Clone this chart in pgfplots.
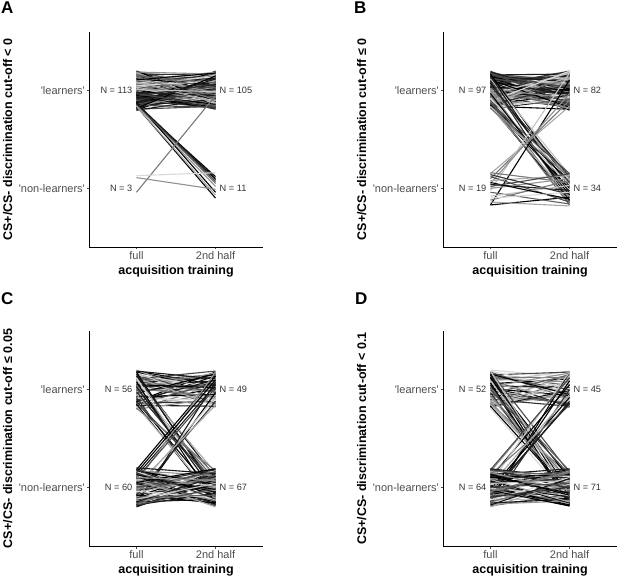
\documentclass[border=0pt]{standalone}
\usepackage{pgfplots}
\pgfplotsset{compat=1.18}
\usepackage{pgfplotstable}
\usepackage{fontspec}
\setmainfont{Liberation Sans}
\definecolor{tickgray}{HTML}{4D4D4D}
\definecolor{ngray}{HTML}{333333}

% columns: a = position at "full", b = position at "2nd half", g = grey level (0 black ... 0.9 light)
\pgfplotstableread[row sep=\\]{a b g\\
1.13 0.95 0.1\\ 0.93 1.16 0.6\\ 1.18 1.04 0.2\\ 0.85 0.90 0.9\\ 1.02 1.19 0.0\\ 1.09 0.83 0.4\\ 0.81 1.08 0.3\\ 1.05 0.97 0.7\\
0.89 1.12 0.1\\ 1.16 0.86 0.5\\ 0.97 1.01 0.0\\ 1.11 1.17 0.8\\ 0.83 0.94 0.2\\ 1.07 1.10 0.6\\ 0.91 0.82 0.3\\ 1.19 1.06 0.1\\
0.99 0.88 0.9\\ 1.14 1.13 0.0\\ 0.87 1.03 0.4\\ 1.04 0.91 0.7\\ 0.94 1.18 0.2\\ 1.17 0.99 0.5\\ 0.82 1.14 0.1\\ 1.08 0.84 0.8\\
0.88 1.07 0.0\\ 1.01 0.93 0.3\\ 1.15 1.11 0.6\\ 0.95 0.87 0.2\\ 1.10 1.02 0.9\\ 0.84 1.15 0.1\\ 1.06 0.96 0.4\\ 0.80 1.09 0.0\\
1.12 0.81 0.7\\ 0.92 1.00 0.3\\ 1.03 1.12 0.5\\ 0.86 0.89 0.1\\ 1.20 1.05 0.8\\ 0.96 0.92 0.0\\ 1.17 1.16 0.2\\ 0.90 0.85 0.6\\
1.00 1.08 0.3\\ 1.08 0.98 0.9\\ 0.85 1.20 0.1\\ 1.13 0.90 0.4\\ 0.98 1.04 0.0\\ 1.18 0.86 0.7\\ 0.88 1.13 0.2\\ 1.05 0.94 0.5\\
0.82 1.01 0.1\\ 1.10 1.17 0.8\\ 0.94 0.83 0.0\\ 1.15 1.10 0.3\\ 0.91 0.97 0.6\\ 1.02 1.14 0.2\\ 1.19 0.88 0.9\\ 0.86 1.06 0.1\\
1.07 0.91 0.4\\ 0.97 1.19 0.0\\ 1.12 1.00 0.7\\ 0.81 0.84 0.3\\ 1.04 1.12 0.5\\ 0.89 0.95 0.1\\ 1.16 1.07 0.8\\ 0.93 0.82 0.0\\
1.09 1.15 0.2\\ 0.84 0.99 0.6\\ 1.01 1.03 0.3\\ 1.14 0.87 0.9\\ 0.87 1.18 0.1\\ 1.11 0.93 0.4\\ 0.96 1.09 0.0\\ 1.18 0.96 0.7\\
0.83 1.11 0.2\\ 1.06 0.85 0.5\\ 0.92 1.02 0.1\\ 1.03 1.16 0.8\\ 1.20 0.89 0.0\\ 0.90 1.05 0.3\\ 1.13 0.98 0.6\\ 0.99 0.81 0.2\\
1.08 1.14 0.9\\ 0.80 0.92 0.1\\ 1.15 1.08 0.4\\ 0.95 0.86 0.0\\ 1.10 1.19 0.7\\ 0.86 1.01 0.3\\ 1.17 0.94 0.5\\ 0.88 1.13 0.1\\
1.02 0.90 0.8\\ 1.12 1.06 0.0\\ 0.91 0.97 0.2\\ 1.19 1.17 0.6\\ 0.85 0.83 0.3\\ 1.05 1.10 0.9\\ 0.98 0.95 0.1\\ 1.16 1.03 0.4\\
0.82 1.15 0.0\\ 1.09 0.88 0.7\\ 0.94 1.07 0.2\\ 1.14 0.91 0.5\\ 0.87 1.12 0.1\\ 1.01 0.99 0.8\\ 1.11 1.18 0.0\\ 0.97 0.84 0.3\\
0.85 0.12 0.0\\ 0.86 0.09 0.1\\ 0.84 -0.10 0.0\\ 0.87 0.05 0.5\\ 0.85 0.02 0.6\\ 0.88 -0.04 0.0\\ 0.86 0.07 0.3\\ 0.84 -0.07 0.7\\ 0.87 0.10 0.1\\
-0.04 0.95 0.5\\
0.13 0.16 0.9\\ 0.11 -0.01 0.6\\
}\tA

\pgfplotstableread[row sep=\\]{a b g\\
0.95 1.13 0.4\\ 1.16 0.93 0.0\\ 1.04 1.18 0.7\\ 0.90 0.85 0.2\\ 1.19 1.02 0.5\\ 0.83 1.09 0.1\\ 1.08 0.81 0.8\\ 0.97 1.05 0.0\\
1.12 0.89 0.3\\ 0.86 1.16 0.6\\ 1.01 0.97 0.2\\ 1.17 1.11 0.9\\ 0.94 0.83 0.1\\ 1.10 1.07 0.4\\ 0.82 0.91 0.0\\ 1.06 1.19 0.7\\
0.88 0.99 0.3\\ 1.13 1.14 0.5\\ 1.03 0.87 0.1\\ 0.91 1.04 0.8\\ 1.18 0.94 0.0\\ 0.99 1.17 0.2\\ 1.14 0.82 0.6\\ 0.84 1.08 0.3\\
1.07 0.88 0.9\\ 0.93 1.01 0.1\\ 1.11 1.15 0.4\\ 0.87 0.95 0.0\\ 1.02 1.10 0.7\\ 1.15 0.84 0.2\\ 0.96 1.06 0.5\\ 1.09 0.80 0.1\\
0.81 1.12 0.8\\ 1.00 0.92 0.0\\ 1.12 1.03 0.3\\ 0.89 0.86 0.6\\ 1.05 1.20 0.2\\ 0.92 0.96 0.9\\ 1.16 1.17 0.1\\ 0.85 0.90 0.4\\
1.08 1.00 0.0\\ 0.98 1.08 0.7\\ 1.20 0.85 0.3\\ 0.90 1.13 0.5\\ 1.04 0.98 0.1\\ 0.86 1.18 0.8\\ 1.13 0.88 0.0\\ 0.94 1.05 0.2\\
1.01 0.82 0.6\\ 1.17 1.10 0.3\\ 0.83 0.94 0.9\\ 1.10 1.15 0.1\\ 0.97 0.91 0.4\\ 1.14 1.02 0.0\\ 0.88 1.19 0.7\\ 1.06 0.86 0.2\\
0.91 1.07 0.5\\ 1.19 0.97 0.1\\ 1.00 1.12 0.8\\ 0.84 0.81 0.0\\ 1.12 1.04 0.3\\ 0.95 0.89 0.6\\ 1.07 1.16 0.2\\ 0.82 0.93 0.9\\
1.15 1.09 0.1\\ 0.99 0.84 0.4\\ 1.03 1.01 0.0\\ 0.87 1.14 0.7\\ 1.18 0.87 0.3\\ 0.93 1.11 0.5\\ 1.09 0.96 0.1\\ 0.96 1.18 0.8\\
1.11 0.83 0.0\\ 0.85 1.06 0.2\\ 1.02 0.92 0.6\\ 1.16 1.03 0.3\\ 0.89 1.20 0.9\\
1.17 0.05 0.0\\ 0.84 -0.12 0.0\\ 1.02 0.10 0.6\\ 0.90 -0.03 0.3\\ 1.12 0.14 0.8\\ 0.86 0.07 0.1\\ 0.95 -0.15 0.5\\ 1.08 0.02 0.0\\
0.83 -0.08 0.7\\ 1.05 0.12 0.2\\ 0.88 -0.17 0.4\\ 1.15 -0.05 0.1\\ 0.92 0.09 0.9\\ 0.85 0.00 0.0\\ 1.00 -0.10 0.6\\ 0.87 0.15 0.3\\
1.10 -0.13 0.2\\ 0.84 0.04 0.8\\ 0.97 -0.07 0.0\\ 0.82 0.11 0.5\\
-0.17 1.11 0.0\\ 0.15 0.84 0.7\\ 0.10 0.90 0.5\\ -0.02 1.18 0.8\\ 0.05 0.97 0.6\\
-0.17 -0.09 0.0\\ 0.16 0.06 0.5\\ 0.12 -0.14 0.3\\ 0.08 0.13 0.7\\ 0.04 -0.02 0.1\\ 0.00 0.10 0.6\\ -0.04 -0.16 0.4\\
-0.08 0.03 0.8\\ 0.14 -0.06 0.2\\ -0.12 0.08 0.5\\ 0.06 -0.11 0.0\\ -0.14 -0.18 0.7\\ 0.02 0.15 0.3\\ -0.10 -0.04 0.9\\
}\tB

\pgfplotstableread[row sep=\\]{a b g\\
1.19 1.05 0.0\\ 0.83 0.96 0.6\\ 1.10 1.15 0.2\\ 0.95 0.82 0.8\\ 1.04 1.09 0.1\\ 1.16 0.92 0.4\\ 0.88 1.18 0.0\\ 1.00 0.99 0.7\\
1.13 0.86 0.3\\ 0.81 1.03 0.5\\ 1.07 1.12 0.1\\ 0.92 0.94 0.9\\ 1.18 1.01 0.0\\ 0.86 0.88 0.2\\ 1.02 1.17 0.6\\ 1.14 0.97 0.3\\
0.97 1.08 0.8\\ 0.84 0.83 0.1\\ 1.09 1.13 0.4\\ 0.90 1.00 0.0\\ 1.20 0.90 0.7\\ 0.99 1.06 0.2\\ 1.06 0.85 0.5\\ 0.87 1.14 0.1\\
1.15 1.02 0.9\\ 0.93 0.95 0.0\\ 1.11 1.19 0.3\\ 0.80 0.91 0.6\\ 1.03 1.04 0.2\\ 1.17 0.87 0.8\\ 0.89 1.10 0.1\\ 1.08 0.98 0.4\\
0.96 1.16 0.0\\ 1.12 0.84 0.7\\ 0.85 1.07 0.3\\ 1.01 0.93 0.5\\ 1.19 1.11 0.1\\ 0.91 0.89 0.9\\ 1.05 1.02 0.0\\
1.18 -0.05 0.0\\ 1.14 0.10 0.1\\ 0.85 -0.15 0.0\\ 1.05 0.03 0.5\\ 0.92 -0.18 0.2\\ 1.10 0.15 0.7\\ 0.88 -0.08 0.0\\ 1.01 0.07 0.4\\
0.83 -0.12 0.8\\ 1.16 -0.02 0.1\\ 0.95 0.12 0.6\\ 1.08 -0.16 0.0\\ 0.87 0.05 0.3\\ 1.12 -0.10 0.9\\ 0.98 0.00 0.2\\ 0.81 0.17 0.5\\ 1.03 -0.06 0.1\\
0.18 1.14 0.0\\ 0.12 1.05 0.1\\ -0.15 0.97 0.0\\ 0.05 1.18 0.6\\ -0.08 0.88 0.2\\ 0.15 1.10 0.0\\ -0.02 0.92 0.8\\ 0.09 1.02 0.3\\ -0.18 1.08 0.1\\ 0.02 0.84 0.7\\
0.13 -0.07 0.2\\ -0.09 0.16 0.0\\ 0.18 0.04 0.6\\ -0.15 -0.12 0.1\\ 0.02 0.09 0.8\\ 0.09 -0.19 0.3\\ -0.19 0.05 0.0\\ 0.05 -0.01 0.5\\
-0.11 0.14 0.1\\ 0.16 -0.13 0.9\\ -0.03 0.11 0.2\\ 0.11 -0.17 0.0\\ -0.17 0.07 0.4\\ 0.07 0.00 0.7\\ -0.06 0.19 0.1\\ 0.19 -0.09 0.0\\
-0.01 0.15 0.5\\ 0.14 -0.04 0.3\\ -0.13 0.18 0.8\\ 0.04 -0.15 0.0\\ -0.07 0.02 0.2\\ 0.17 0.12 0.6\\ -0.18 -0.06 0.1\\ 0.08 0.17 0.9\\
-0.12 -0.10 0.0\\ 0.01 0.06 0.4\\ 0.15 -0.18 0.2\\ -0.05 0.10 0.7\\ 0.10 -0.02 0.0\\ -0.16 0.13 0.3\\ 0.06 -0.14 0.5\\ -0.20 0.08 0.1\\
0.12 0.01 0.8\\ -0.08 -0.16 0.0\\ 0.03 0.18 0.2\\ -0.14 -0.03 0.6\\ 0.20 0.14 0.1\\ -0.04 -0.11 0.9\\ 0.17 0.03 0.0\\ -0.10 -0.08 0.4\\
0.00 0.16 0.3\\ 0.08 -0.20 0.7\\ -0.15 0.11 0.1\\ 0.13 -0.05 0.0\\ -0.02 0.09 0.5\\ 0.18 -0.12 0.2\\ -0.12 0.04 0.8\\ 0.05 0.19 0.0\\
-0.18 -0.01 0.3\\ 0.10 0.07 0.6\\
}\tC

\pgfplotstableread[row sep=\\]{a b g\\
1.17 0.96 0.6\\ 0.84 1.09 0.2\\ 1.08 1.19 0.8\\ 0.95 0.86 0.0\\ 1.12 1.05 0.4\\ 0.89 0.93 0.7\\ 1.20 1.13 0.9\\ 1.02 0.84 0.1\\
0.86 1.16 0.5\\ 1.14 1.00 0.3\\ 0.92 0.89 0.8\\ 1.06 1.11 0.0\\ 0.82 0.97 0.6\\ 1.10 0.82 0.2\\ 0.98 1.07 0.9\\ 1.18 0.91 0.4\\
0.88 1.14 0.7\\ 1.04 1.02 0.1\\ 0.93 0.87 0.5\\ 1.15 1.18 0.3\\ 0.85 1.04 0.8\\ 1.01 0.94 0.0\\ 1.11 1.08 0.6\\ 0.90 0.83 0.2\\
1.19 1.01 0.9\\ 0.96 1.15 0.4\\ 1.07 0.90 0.7\\ 0.83 0.99 0.1\\ 1.13 1.12 0.5\\ 0.99 0.85 0.3\\ 0.87 1.06 0.8\\ 1.16 0.95 0.0\\ 1.03 1.17 0.6\\
1.13 -0.16 0.0\\ 1.16 -0.10 0.0\\ 0.86 0.12 0.5\\ 1.05 -0.18 0.1\\ 0.92 0.05 0.7\\ 1.18 0.15 0.3\\ 0.83 -0.06 0.0\\ 1.09 0.02 0.8\\
0.97 -0.14 0.2\\ 1.12 0.09 0.0\\ 0.88 -0.02 0.6\\ 1.02 0.17 0.4\\ 0.81 -0.12 0.9\\ 1.15 -0.04 0.1\\ 0.94 0.07 0.5\\ 1.07 -0.17 0.0\\
0.85 0.00 0.7\\ 1.00 0.13 0.3\\ 1.19 -0.08 0.8\\
-0.15 1.18 0.0\\ 0.10 1.05 0.0\\ -0.08 0.88 0.1\\ 0.16 1.13 0.6\\ -0.02 0.92 0.0\\ 0.05 1.18 0.8\\ -0.18 1.00 0.2\\ 0.13 0.84 0.5\\
-0.11 1.09 0.0\\ 0.02 0.95 0.7\\ 0.18 1.12 0.3\\ -0.05 0.86 0.1\\
0.17 0.04 0.3\\ -0.06 -0.12 0.0\\ 0.09 0.15 0.6\\ -0.14 0.01 0.2\\ 0.03 -0.17 0.8\\ 0.19 0.10 0.1\\ -0.10 -0.05 0.4\\ 0.06 0.18 0.0\\
-0.18 -0.09 0.7\\ 0.12 0.07 0.2\\ -0.02 -0.15 0.5\\ 0.15 0.12 0.1\\ -0.16 0.03 0.9\\ 0.00 -0.19 0.0\\ 0.11 0.16 0.3\\ -0.08 -0.02 0.6\\
0.18 0.09 0.1\\ -0.12 -0.13 0.8\\ 0.04 0.14 0.0\\ -0.19 -0.07 0.4\\ 0.08 0.00 0.2\\ -0.04 0.17 0.7\\ 0.14 -0.11 0.1\\ -0.15 0.06 0.5\\
0.01 -0.18 0.0\\ 0.16 0.11 0.9\\ -0.09 -0.04 0.3\\ 0.10 0.13 0.0\\ -0.17 -0.14 0.6\\ 0.05 0.08 0.2\\ -0.01 -0.08 0.8\\ 0.13 0.19 0.1\\
-0.11 0.02 0.4\\ 0.07 -0.16 0.0\\ -0.20 0.05 0.7\\ 0.19 -0.01 0.2\\ -0.05 0.15 0.5\\ 0.02 -0.10 0.1\\ -0.13 0.10 0.9\\ 0.11 -0.06 0.0\\
-0.07 0.18 0.3\\ 0.15 -0.03 0.6\\ -0.16 -0.12 0.1\\ 0.04 0.07 0.8\\ -0.03 -0.19 0.0\\ 0.17 0.12 0.4\\ -0.10 0.00 0.2\\ 0.08 -0.15 0.7\\
-0.18 0.09 0.1\\ 0.13 -0.08 0.0\\ -0.04 0.16 0.5\\ 0.00 0.04 0.3\\
}\tD

\tikzset{nlab/.style={font=\fontsize{9.2}{11}\selectfont, text=ngray, inner sep=0pt}}

\pgfplotsset{
  panel/.style={
    scale only axis, width=174pt, height=215pt,
    anchor=south west,
    xmin=-0.6, xmax=1.6, ymin=-0.6, ymax=1.6,
    axis lines=left,
    axis line style={-, line width=0.8pt, black},
    xtick={0,1}, xticklabels={full, 2nd half},
    ytick={0,1},
    yticklabels={\textquotesingle non-learners\textquotesingle, \textquotesingle learners\textquotesingle},
    major tick length=2.5pt, tick align=outside,
    tick style={line width=0.6pt, tickgray},
    ticklabel style={font=\fontsize{11}{13}\selectfont, text=tickgray},
    xticklabel style={inner sep=1pt, yshift=-1pt},
    yticklabel style={inner sep=1.5pt},
    xlabel={acquisition training},
    xlabel style={font=\bfseries\fontsize{12.5}{15}\selectfont, at={(axis description cs:0.5,-0.112)}, anchor=center},
    ylabel style={font=\bfseries\fontsize{12.5}{15}\selectfont, at={(axis description cs:-0.467,0.5)}, anchor=center},
    clip=false,
  },
}

% one segment per subject, read row by row from the table: (0,a) -- (1,b), grey level from g
\newcommand{\links}[1]{%
  \pgfplotstablegetrowsof{#1}%
  \pgfmathtruncatemacro{\nrows}{\pgfplotsretval-1}%
  \pgfplotsforeachungrouped \i in {0,...,\nrows}{%
    \pgfplotstablegetelem{\i}{a}\of{#1}\let\va\pgfplotsretval
    \pgfplotstablegetelem{\i}{b}\of{#1}\let\vb\pgfplotsretval
    \pgfplotstablegetelem{\i}{g}\of{#1}\let\vg\pgfplotsretval
    \pgfmathtruncatemacro{\shade}{100-94*\vg}%
    \edef\doplot{\noexpand\addplot[draw=black!\shade, line width=1.1pt, forget plot] coordinates {(0,\va) (1,\vb)};}%
    \doplot
  }%
}

\begin{document}
\begin{tikzpicture}
\path[use as bounding box] (0,0) rectangle (617pt,578pt);

\begin{axis}[panel, at={(89pt,331pt)}, ylabel={CS+/CS- discrimination cut-off < 0}]
\links{\tA}
\node[nlab, anchor=east] at (axis cs:-0.05,1) {N = 113};
\node[nlab, anchor=east] at (axis cs:-0.05,0) {N = 3};
\node[nlab, anchor=west] at (axis cs:1.05,1) {N = 105};
\node[nlab, anchor=west] at (axis cs:1.05,0) {N = 11};
\end{axis}

\begin{axis}[panel, at={(443pt,331pt)}, ylabel={CS+/CS- discrimination cut-off ≤ 0}]
\links{\tB}
\node[nlab, anchor=east] at (axis cs:-0.05,1) {N = 97};
\node[nlab, anchor=east] at (axis cs:-0.05,0) {N = 19};
\node[nlab, anchor=west] at (axis cs:1.05,1) {N = 82};
\node[nlab, anchor=west] at (axis cs:1.05,0) {N = 34};
\end{axis}

\begin{axis}[panel, at={(89pt,32pt)}, ylabel={CS+/CS- discrimination cut-off ≤ 0.05}]
\links{\tC}
\node[nlab, anchor=east] at (axis cs:-0.05,1) {N = 56};
\node[nlab, anchor=east] at (axis cs:-0.05,0) {N = 60};
\node[nlab, anchor=west] at (axis cs:1.05,1) {N = 49};
\node[nlab, anchor=west] at (axis cs:1.05,0) {N = 67};
\end{axis}

\begin{axis}[panel, at={(443pt,32pt)}, ylabel={CS+/CS- discrimination cut-off < 0.1}]
\links{\tD}
\node[nlab, anchor=east] at (axis cs:-0.05,1) {N = 52};
\node[nlab, anchor=east] at (axis cs:-0.05,0) {N = 64};
\node[nlab, anchor=west] at (axis cs:1.05,1) {N = 45};
\node[nlab, anchor=west] at (axis cs:1.05,0) {N = 71};
\end{axis}

\node[anchor=base west, font=\bfseries\fontsize{17}{20}\selectfont, inner sep=0pt] at (1pt,564pt) {A};
\node[anchor=base west, font=\bfseries\fontsize{17}{20}\selectfont, inner sep=0pt] at (354pt,564pt) {B};
\node[anchor=base west, font=\bfseries\fontsize{17}{20}\selectfont, inner sep=0pt] at (1pt,273pt) {C};
\node[anchor=base west, font=\bfseries\fontsize{17}{20}\selectfont, inner sep=0pt] at (355pt,273pt) {D};
\end{tikzpicture}
\end{document}
